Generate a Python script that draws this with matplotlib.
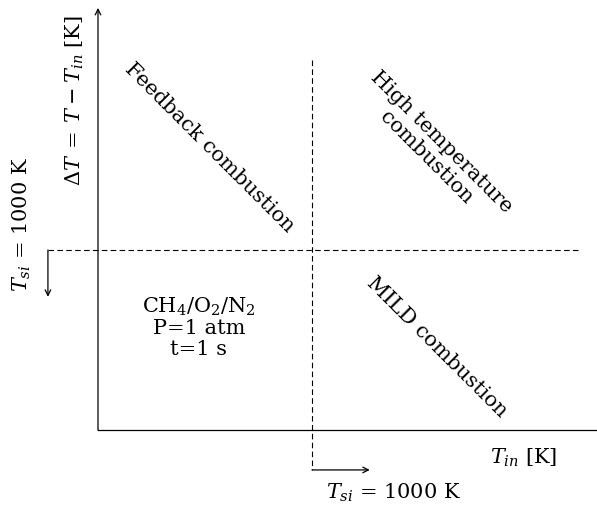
import matplotlib
matplotlib.use('Agg')
import matplotlib.pyplot as plt

plt.rcParams['font.family'] = 'DejaVu Serif'
plt.rcParams['mathtext.fontset'] = 'dejavuserif'

# Regime map (schematic), temperatures in K
T_SI = 1000                 # self-ignition temperature
TIN_MAX = 2330              # extent of the T_in axis
DT_MAX = 2345               # extent of the Delta T axis

regions = ['Feedback combustion', 'High temperature\ncombustion', 'MILD combustion']
conditions = 'CH$_4$/O$_2$/N$_2$\nP=1 atm\nt=1 s'

fig = plt.figure(figsize=(5.97, 5.09), dpi=100)
ax = fig.add_axes([0, 0, 1, 1])
ax.set_xlim(-458, 2332)
ax.set_ylim(-439, 2389)
ax.axis('off')

fs = 15
arrow = dict(arrowstyle='->', color='black', lw=0.9, shrinkA=0, shrinkB=0,
             mutation_scale=10)

# axes
ax.plot([0, TIN_MAX], [0, 0], color='black', lw=0.9)
ax.annotate('', xy=(0, DT_MAX), xytext=(0, 0), arrowprops=arrow)

# threshold lines
ax.plot([T_SI, T_SI], [2055, -222], color='black', lw=0.8, dashes=(5, 3))
ax.annotate('', xy=(T_SI + 270, -222), xytext=(T_SI, -222), arrowprops=arrow)
ax.plot([-234, 2243], [T_SI, T_SI], color='black', lw=0.8, dashes=(5, 3))
ax.annotate('', xy=(-234, T_SI - 260), xytext=(-234, T_SI), arrowprops=arrow)

# axis labels
ax.text(1991, -156, r'$T_{in}$ [K]', fontsize=fs, ha='center', va='center')
ax.text(-107, 1830, r'$\Delta T\:=\:T\:-\:T_{in}$ [K]', fontsize=fs,
        ha='center', va='center', rotation=90)
ax.text(1379, -350, r'$T_{si}$ = 1000 K', fontsize=fs, ha='center', va='center')
ax.text(-355, 1144, r'$T_{si}$ = 1000 K', fontsize=fs, ha='center',
        va='center', rotation=90)

# regime labels
pos = [(523, 1567), (1570, 1555), (1584, 461)]
for lab, (x, y) in zip(regions, pos):
    ax.text(x, y, lab, fontsize=fs, ha='center', va='center', rotation=-45,
            rotation_mode='anchor', multialignment='center')

ax.text(472, 572, conditions, fontsize=fs, ha='center', va='center',
        multialignment='center', linespacing=1.1)

fig.savefig('out.png', dpi=100)
